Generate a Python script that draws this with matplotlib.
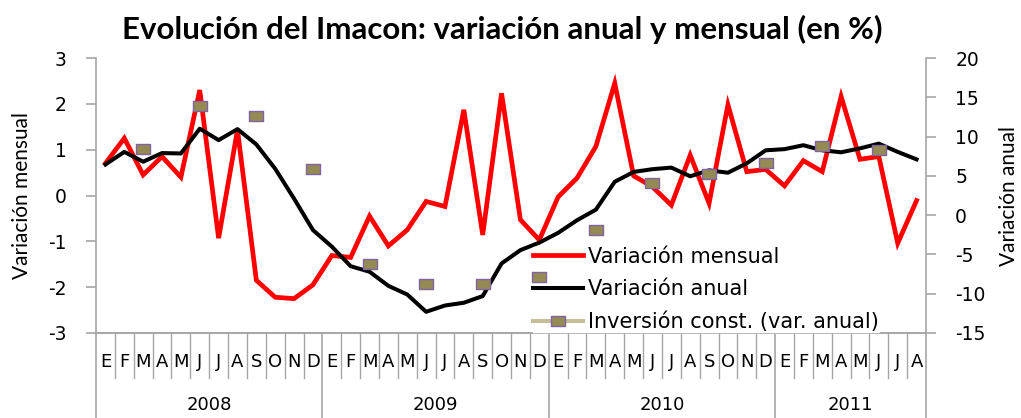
import numpy as np
import matplotlib
matplotlib.use('Agg')
import matplotlib.pyplot as plt
from matplotlib.path import Path

plt.rcParams['axes.unicode_minus'] = False

# Datos: enero 2008 - agosto 2011
meses = ['E', 'F', 'M', 'A', 'M', 'J', 'J', 'A', 'S', 'O', 'N', 'D']
anios = ['2008', '2009', '2010', '2011']
n_meses_anio = [12, 12, 12, 8]

var_mensual = [0.70, 1.25, 0.45, 0.85, 0.40, 2.30, -0.93, 1.43, -1.85, -2.22, -2.25, -1.95,
               -1.31, -1.35, -0.45, -1.10, -0.75, -0.13, -0.24, 1.87, -0.86, 2.23, -0.53, -0.97,
               -0.03, 0.38, 1.07, 2.45, 0.43, 0.19, -0.21, 0.88, -0.17, 1.98, 0.52, 0.57,
               0.21, 0.76, 0.52, 2.16, 0.79, 0.85, -1.04, -0.11]

var_anual = [6.45, 8.05, 6.8, 7.9, 7.85, 11.0, 9.55, 10.95, 9.0, 5.9, 2.1, -1.9,
             -4.0, -6.5, -7.2, -9.0, -10.1, -12.3, -11.5, -11.15, -10.3, -6.15, -4.45, -3.5,
             -2.25, -0.65, 0.7, 4.25, 5.5, 5.85, 6.05, 4.95, 5.7, 5.4, 6.6, 8.25,
             8.4, 8.9, 8.25, 8.0, 8.5, 9.1, 8.05, 7.1]

nan = np.nan
inversion = [nan, nan, 8.4, nan, nan, 13.9, nan, nan, 12.65, nan, nan, 5.85,
             nan, nan, -6.25, nan, nan, -8.8, nan, nan, -8.7, nan, nan, -7.85,
             nan, nan, -1.9, nan, nan, 4.1, nan, nan, 5.2, nan, nan, 6.65,
             nan, nan, 8.8, nan, nan, 8.35, nan, nan]

gris = '#a6a6a6'
fuente = 'DejaVu Sans'
fuente_estrecha = ['Lato', 'DejaVu Sans']

x = np.arange(len(var_mensual))

fig = plt.figure(figsize=(10.21, 4.18), dpi=100)
ax = fig.add_axes([96/1021, 1 - 333/418, 830/1021, 275/418])
ax2 = ax.twinx()

ax.plot(x, var_mensual, color='red', lw=3.4, solid_joinstyle='miter', label='Variación mensual')
ax2.plot(x, var_anual, color='black', lw=2.9, label='Variación anual', zorder=3)
rect = Path([(-1.5, -1), (1.5, -1), (1.5, 1), (-1.5, 1), (-1.5, -1)],
            [Path.MOVETO, Path.LINETO, Path.LINETO, Path.LINETO, Path.CLOSEPOLY])
ax2.plot(x, inversion, color='#c4bd97', lw=2.9, marker=rect, ms=10,
         mfc='#948a54', mec='#8064a2', mew=1.0, label='Inversión const. (var. anual)', zorder=7)

ax.set_xlim(-0.5, len(x) - 0.5)
ax.set_ylim(-3, 3)
ax2.set_ylim(-15, 20)
ax.set_yticks(np.arange(-3, 4, 1))
ax2.set_yticks(np.arange(-15, 21, 5))
ax.set_xticks([])

for a in (ax, ax2):
    for s in a.spines.values():
        s.set_color(gris)
        s.set_linewidth(1.2)
    a.spines['top'].set_visible(False)
    a.tick_params(axis='y', colors=gris, length=7, width=1.2, labelsize=13.5, pad=14)
    for lab in a.get_yticklabels():
        lab.set_color('black')
        lab.set_family(fuente)
ax2.spines['left'].set_visible(False)
ax.spines['right'].set_visible(False)

ax.set_ylabel('Variación mensual', fontsize=15, family=fuente_estrecha, labelpad=12)
ax2.set_ylabel('Variación anual', fontsize=15, family=fuente_estrecha, rotation=90, labelpad=10)

# Etiquetas del eje de categorias (meses y anios)
trans = ax.get_xaxis_transform()
i = 0
for anio, n in zip(anios, n_meses_anio):
    for k in range(n):
        ax.text(i + k, -0.105, meses[k], transform=trans, ha='center', va='center',
                fontsize=13, family=fuente)
        if k > 0:
            ax.plot([i + k - 0.5] * 2, [0, -0.165], transform=trans, color=gris, lw=1, clip_on=False)
    ax.text(i + (n - 1) / 2, -0.262, anio, transform=trans, ha='center', va='center',
            fontsize=13, family=fuente)
    ax.plot([i - 0.5] * 2, [0, -0.31], transform=trans, color=gris, lw=1.2, clip_on=False)
    i += n
ax.plot([i - 0.5] * 2, [0, -0.31], transform=trans, color=gris, lw=1.2, clip_on=False)

h1, l1 = ax.get_legend_handles_labels()
h2, l2 = ax2.get_legend_handles_labels()
leg = ax2.legend(h1 + h2, l1 + l2, loc='lower left', bbox_to_anchor=(0.514, -0.035),
                 frameon=True, framealpha=1, edgecolor='white', fancybox=False,
                 prop={'family': fuente, 'size': 15}, handlelength=2.4, handletextpad=0.25,
                 labelspacing=0.6, borderpad=0.0)
leg.set_zorder(5)

fig.suptitle('Evolución del Imacon: variación anual y mensual (en %)', x=0.492, y=0.965,
             fontsize=22.5, fontweight='bold', family=fuente_estrecha)

fig.savefig('out.png', dpi=100)
